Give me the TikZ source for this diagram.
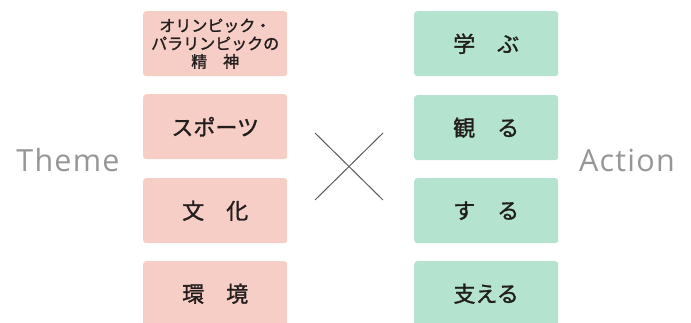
\documentclass[tikz,border=0pt]{standalone}
\usepackage{fontspec}
\setmainfont{Open Sans}
\newfontfamily\jp[FakeBold=1.3]{Noto Sans CJK JP}
\newfontfamily\side[LetterSpace=4]{Open Sans}
\definecolor{pinkbox}{RGB}{246,206,197}
\definecolor{greenbox}{RGB}{180,228,208}
\definecolor{labelgray}{RGB}{150,150,150}
\definecolor{txt}{RGB}{35,30,30}
\definecolor{crossgray}{RGB}{90,90,90}
\begin{document}
\begin{tikzpicture}[x=1pt,y=-1pt,
  box/.style={rounded corners=3pt, minimum width=144pt, minimum height=65pt, inner sep=0pt, anchor=north west, text=txt, font=\jp\fontsize{22}{24}\selectfont, align=center},
  theme/.style={box, fill=pinkbox},
  act/.style={box, fill=greenbox},
  sidelabel/.style={text=labelgray, font=\side\fontsize{30.5}{33}\selectfont}]
\useasboundingbox (0,0) rectangle (691,323);
\node[theme, font=\jp\fontsize{16}{18}\selectfont] (t1) at (143,11) {オリンピック・\\パラリンピックの\\精　神};
\node[theme] (t2) at (143,94) {スポーツ};
\node[theme] (t3) at (143,178) {文　化};
\node[theme] (t4) at (143,261) {環　境};
\node[act] (a1) at (414,11) {学　ぶ};
\node[act] (a2) at (414,95) {観　る};
\node[act] (a3) at (414,178) {す　る};
\node[act] (a4) at (414,261) {支える};
\node[sidelabel] (th) at (68,160) {Theme};
\node[sidelabel] (ac) at (627,160) {Action};
\coordinate (c1) at (315,133);
\coordinate (c2) at (383,200);
\coordinate (c3) at (383,133);
\coordinate (c4) at (315,200);
\draw[crossgray, line width=1pt] (c1) -- (c2);
\draw[crossgray, line width=1pt] (c3) -- (c4);
\end{tikzpicture}
\end{document}
